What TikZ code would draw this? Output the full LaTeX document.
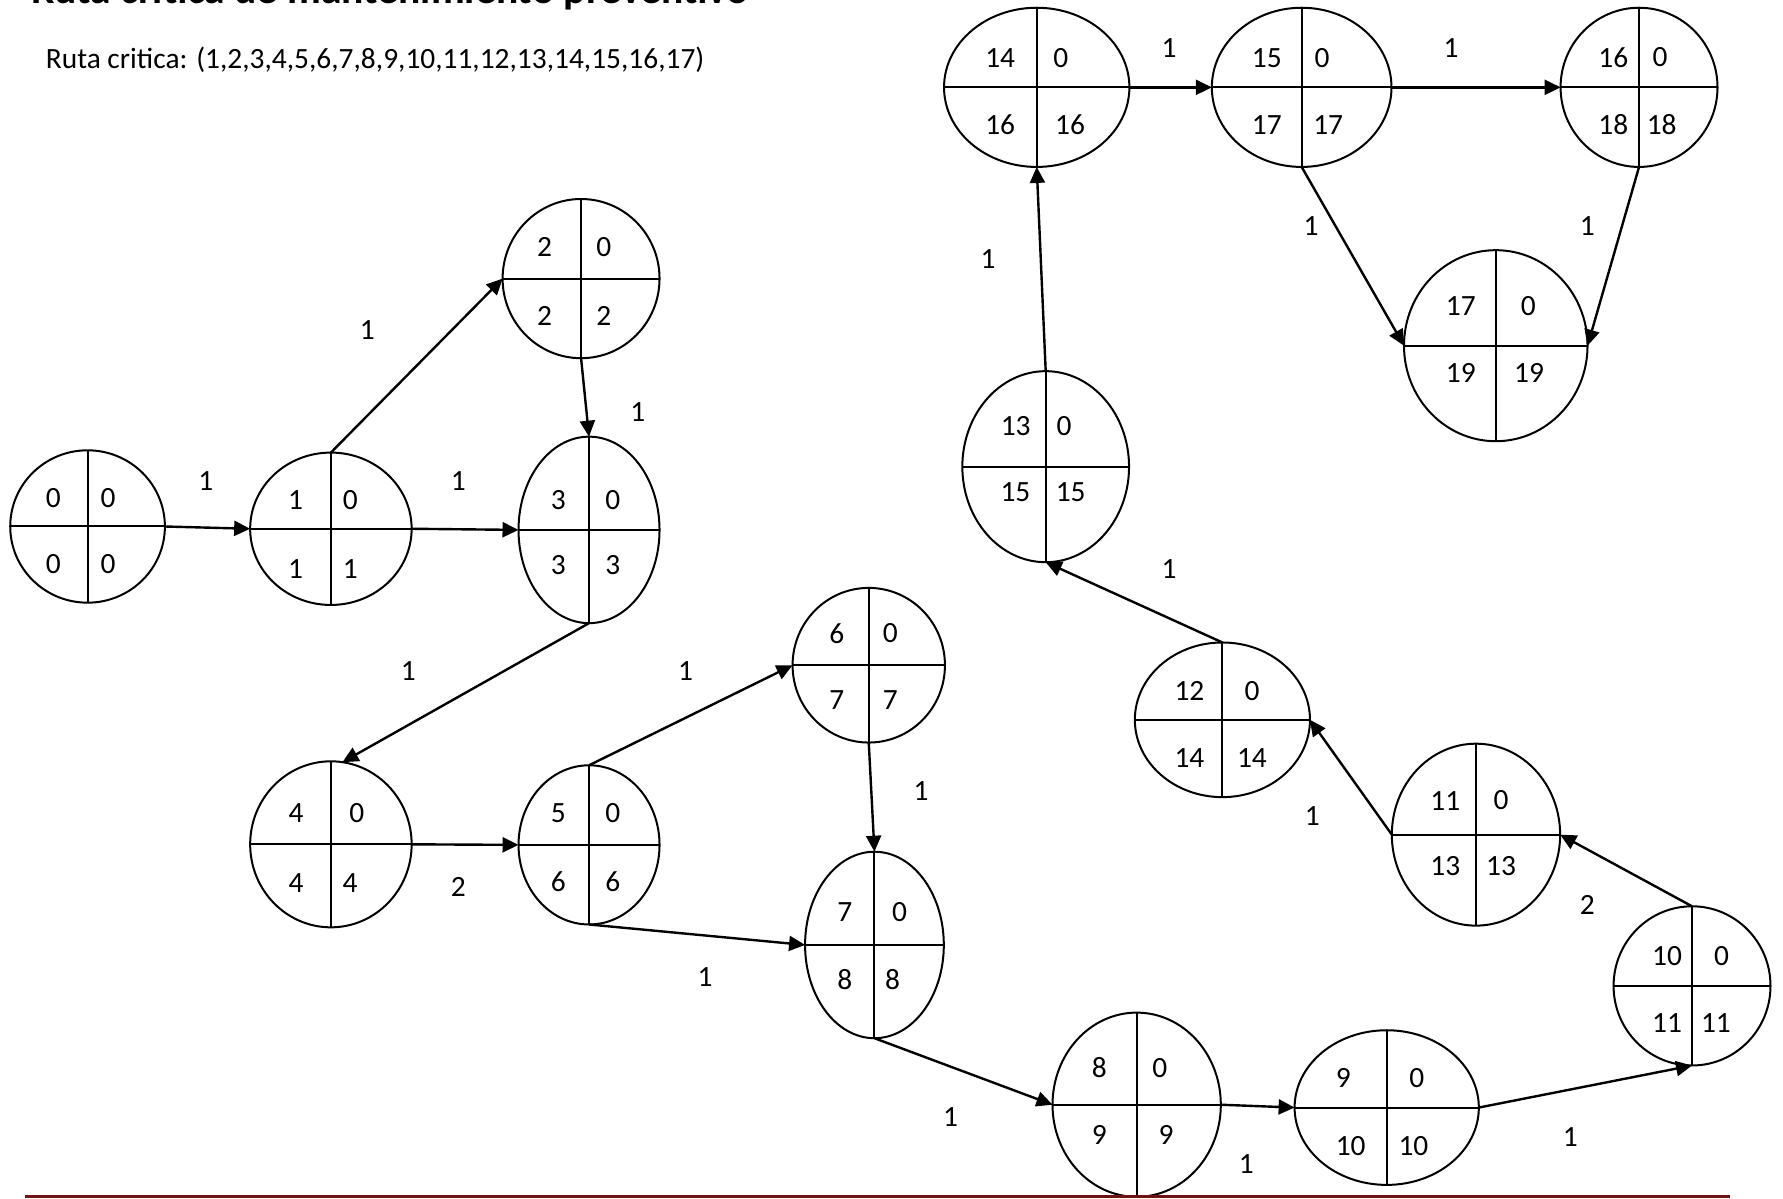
\documentclass[tikz,border=0pt]{standalone}
\usepackage{fontspec}
\setmainfont{Carlito}
\usetikzlibrary{shapes.geometric,arrows.meta}
\definecolor{rulered}{RGB}{112,18,20}
\tikzset{
  pn/.style={ellipse, draw, line width=1pt, inner sep=0pt, outer sep=0pt},
  cross/.style={line width=1pt},
  tx/.style={inner sep=0pt, font=\fontsize{14.7}{17}\selectfont},
  arr/.style={line width=1.2pt, -{Triangle[length=8pt,width=7.5pt]}},
}
\newcommand\pnode[5]{%
  \node[pn, minimum width={2*#4*0.5686pt}, minimum height={2*#5*0.5686pt}] (#1) at (#2,#3) {};
  \draw[cross] (#1.west) -- (#1.east) (#1.north) -- (#1.south);}
\newcommand\q[4]{\node[tx] (#1) at (#2,#3) {#4};}
\begin{document}
\begin{tikzpicture}[x=0.5686pt, y=-0.5686pt]
\useasboundingbox (0,0) rectangle (1568,1054);
\clip (0,0) rectangle (1568,1054);
% title (cut off at top, as in the reference)
\node[inner sep=0pt, anchor=base west, font=\fontsize{20.8}{24}\selectfont\bfseries] (title) at (27,3) {Ruta critica de mantenimiento preventivo};
\node[tx, anchor=base west] (ruta) at (40,60) {Ruta critica: (1,2,3,4,5,6,7,8,9,10,11,12,13,14,15,16,17)};
% nodes
\pnode{n0}{77}{463}{68}{67}
\pnode{n1}{291}{465}{71}{67}
\pnode{n2}{511}{245}{69}{70}
\pnode{n3}{518}{466}{62}{82}
\pnode{n4}{291}{742.5}{71}{73}
\pnode{n5}{518}{743}{62}{70}
\pnode{n6}{764}{585}{67}{68}
\pnode{n7}{769}{831}{61}{82}
\pnode{n8}{999.6}{971.5}{74}{81}
\pnode{n9}{1219.5}{974}{81}{68}
\pnode{n10}{1488}{867}{69}{70}
\pnode{n11}{1298}{734}{74}{80}
\pnode{n12}{1075}{633}{77}{68}
\pnode{n13}{919.6}{410.4}{73.3}{84}
\pnode{n14}{911.7}{76.8}{81.5}{70}
\pnode{n15}{1144.7}{76.8}{79}{70}
\pnode{n16}{1441.4}{76.8}{69}{70}
\pnode{n17}{1315.4}{304}{80.7}{84}
% quadrant texts
\q{t0a}{47}{438}{0}\q{t0b}{95}{438}{0}\q{t0c}{47}{496}{0}\q{t0d}{95}{496}{0}
\q{t1a}{260}{440}{1}\q{t1b}{308}{440}{0}\q{t1c}{260}{500}{1}\q{t1d}{308}{500}{1}
\q{t2a}{479}{217}{2}\q{t2b}{531}{217}{0}\q{t2c}{479}{278}{2}\q{t2d}{531}{278}{2}
\q{t3a}{491}{440}{3}\q{t3b}{539}{440}{0}\q{t3c}{491}{497}{3}\q{t3d}{539}{497}{3}
\q{t4a}{260.3}{715.3}{4}\q{t4b}{313.7}{715.3}{0}\q{t4c}{260.3}{776.2}{4}\q{t4d}{307.8}{776.2}{4}
\q{t5a}{491}{715}{5}\q{t5b}{539}{715}{0}\q{t5c}{491}{775}{6}\q{t5d}{539}{775}{6}
\q{t6a}{736}{557}{6}\q{t6b}{783}{557}{0}\q{t6c}{736}{616}{7}\q{t6d}{783}{616}{7}
\q{t7a}{743}{802}{7}\q{t7b}{791}{802}{0}\q{t7c}{743}{861}{8}\q{t7d}{785}{861}{8}
\q{t8a}{966.8}{939}{8}\q{t8b}{1020}{939}{0}\q{t8c}{966.8}{998.2}{9}\q{t8d}{1025.4}{998.2}{9}
\q{t9a}{1181.4}{948.3}{9}\q{t9b}{1245.9}{948.3}{0}\q{t9c}{1187.8}{1007.8}{10}\q{t9d}{1243}{1007.8}{10}
\q{t10a}{1466}{841}{10}\q{t10b}{1514}{841}{0}\q{t10c}{1466}{900}{11}\q{t10d}{1509}{900}{11}
\q{t11a}{1271}{704}{11}\q{t11b}{1320}{704}{0}\q{t11c}{1271}{762}{13}\q{t11d}{1320}{762}{13}
\q{t12a}{1046}{608}{12}\q{t12b}{1101}{608}{0}\q{t12c}{1046}{667}{14}\q{t12d}{1101}{667}{14}
\q{t13a}{893.2}{374.4}{13}\q{t13b}{935.8}{374.4}{0}\q{t13c}{893}{432.4}{15}\q{t13d}{941.6}{432.4}{15}
\q{t14a}{879.6}{51.3}{14}\q{t14b}{932.8}{51.3}{0}\q{t14c}{879.6}{110}{16}\q{t14d}{941}{110}{16}
\q{t15a}{1114}{51.3}{15}\q{t15b}{1162.6}{51.3}{0}\q{t15c}{1114}{110}{17}\q{t15d}{1168}{110}{17}
\q{t16a}{1418.8}{50.4}{16}\q{t16b}{1459.9}{50.4}{0}\q{t16c}{1418.8}{109.9}{18}\q{t16d}{1461.3}{109.9}{18}
\q{t17a}{1284.6}{268.8}{17}\q{t17b}{1344}{268.8}{0}\q{t17c}{1284.6}{328.3}{19}\q{t17d}{1344.7}{328.3}{19}
% arrows
\draw[arr] (n0.east) -- (n1.west);
\draw[arr] (n1.north) -- (n2.west);
\draw[arr] (n2.south) -- (n3.north);
\draw[arr] (n1.east) -- (n3.west);
\draw[arr] (n3.south) -- (n4.82);
\draw[arr] (n4.east) -- (n5.west);
\draw[arr] (n5.north) -- (n6.west);
\draw[arr] (n6.south) -- (n7.north);
\draw[arr] (n5.south) -- (n7.west);
\draw[arr] (n7.south) -- (n8.west);
\draw[arr] (n8.east) -- (n9.west);
\draw[arr] (n9.east) -- (n10.south);
\draw[arr] (n10.north) -- (n11.east);
\draw[arr] (n11.west) -- (n12.east);
\draw[arr] (n12.north) -- (n13.south);
\draw[arr] (n13.north) -- (n14.south);
\draw[arr] (n14.east) -- (n15.west);
\draw[arr] (n15.east) -- (n16.west);
\draw[arr] (n15.south) -- (n17.west);
\draw[arr] (n16.south) -- (n17.east);
% arrow labels
\q{l01}{181}{423}{1}
\q{l12}{323}{290}{1}
\q{l23}{561}{362}{1}
\q{l13}{403}{423}{1}
\q{l34}{359}{590}{1}
\q{l45}{403}{780}{2}
\q{l56}{603}{590}{1}
\q{l67}{810}{696}{1}
\q{l57}{620}{859}{1}
\q{l78}{836}{982}{1}
\q{l89}{1096}{1024}{1}
\q{l910}{1381}{1000}{1}
\q{l1011}{1396}{796}{2}
\q{l1112}{1154}{718}{1}
\q{l1213}{1028}{500}{1}
\q{l1314}{869}{228}{1}
\q{l1415}{1028}{42}{1}
\q{l1516}{1276}{42}{1}
\q{l1517}{1153}{199}{1}
\q{l1617}{1396}{199}{1}
% bottom rule
\coordinate (rl) at (22,1052);
\coordinate (rr) at (1521,1052);
\draw[rulered, line width=1.5pt] (rl) -- (rr);
\end{tikzpicture}
\end{document}
